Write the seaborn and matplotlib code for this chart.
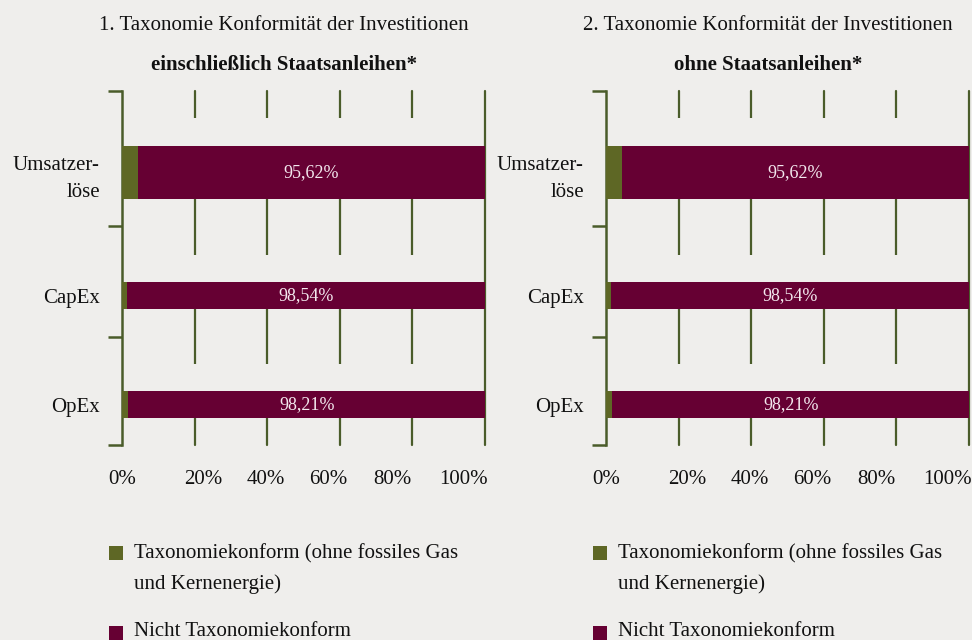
import matplotlib
matplotlib.use("Agg")
import matplotlib.pyplot as plt
from matplotlib.patches import Rectangle
import seaborn as sns

# Daten
kategorien = ["Umsatzer-\nlöse", "CapEx", "OpEx"]
konform_mit = [4.38, 1.46, 1.79]      # einschließlich Staatsanleihen
nicht_mit = [95.62, 98.54, 98.21]
konform_ohne = [4.38, 1.46, 1.79]     # ohne Staatsanleihen
nicht_ohne = [95.62, 98.54, 98.21]
x_labels = ["0%", "20%", "40%", "60%", "80%", "100%"]
titel = ["1. Taxonomie Konformität der Investitionen", "2. Taxonomie Konformität der Investitionen"]
untertitel = ["einschließlich Staatsanleihen*", "ohne Staatsanleihen*"]
legende = ["Taxonomiekonform (ohne fossiles Gas", "und Kernenergie)", "Nicht Taxonomiekonform"]

# Layout / Farben
bg = "#EFEEEC"
gruen = "#5E6725"
bordeaux = "#660033"
linie = "#4A5C2A"
grid_x = [20, 40, 60, 80, 100]
label_x = [0, 22.3, 39.7, 56.9, 74.5, 94.2]
bar_y = [2.30, 5.78, 8.86]
bar_h = [1.50, 0.76, 0.76]
band_y = [0, 3.81, 6.95, 10]
gap_h = 0.78

sns.set_theme(style="white")
plt.rcParams["font.family"] = ["Liberation Serif", "DejaVu Serif"]

fig = plt.figure(figsize=(9.72, 6.4), dpi=100, facecolor=bg)
W, H = 972, 640

panels = [(konform_mit, nicht_mit, 122), (konform_ohne, nicht_ohne, 606)]
for i, (konf, nicht, x0) in enumerate(panels):
    ax = fig.add_axes([x0 / W, 1 - 445 / H, 363 / W, 354 / H])
    ax.set_facecolor(bg)
    ax.set_xlim(0, 100)
    ax.set_ylim(10, 0)

    for gx in grid_x:
        ax.axvline(gx, color=linie, lw=1.6, zorder=1, clip_on=False)
    # Lücken in den Gitterlinien oberhalb der Balken
    gap_y = [y - h / 2 - gap_h / 2 for y, h in zip(bar_y, bar_h)]
    ax.barh(gap_y, 98, left=0.8, height=gap_h, color=bg, lw=0, zorder=2)

    ax.barh(bar_y, konf, height=bar_h, color=gruen, lw=0, zorder=3)
    c = ax.barh(bar_y, nicht, left=konf, height=bar_h, color=bordeaux, lw=0, zorder=3)
    ax.bar_label(c, labels=[f"{v:.2f}%".replace(".", ",") for v in nicht],
                 label_type="center", color="#F3E8EE", fontsize=13)

    for s in ["top", "right", "bottom"]:
        ax.spines[s].set_visible(False)
    ax.spines["left"].set_color(linie)
    ax.spines["left"].set_linewidth(1.8)

    ax.set_yticks(band_y)
    ax.set_yticklabels([])
    ax.tick_params(axis="y", which="major", left=True, length=10, width=1.8,
                   color=linie, direction="out")
    ax.set_yticks(bar_y, kategorien, minor=True)
    ax.tick_params(axis="y", which="minor", left=True, length=0, pad=16, labelsize=15)
    for t in ax.get_yticklabels(minor=True):
        t.set_linespacing(1.55)
        t.set_color("#111111")

    ax.set_xticks(label_x, x_labels)
    ax.tick_params(axis="x", length=0, pad=18, labelsize=15, labelcolor="#111111")
    ax.grid(False)

    # Titel
    tx = (x0 - 19 + 181) / W
    fig.text(tx, 1 - 30 / H, titel[i], ha="center", va="baseline", fontsize=15, color="#111111")
    fig.text(tx, 1 - 70 / H, untertitel[i], ha="center", va="baseline", fontsize=15,
             fontweight="bold", color="#111111")

    # Legende
    lx = x0 - 13
    fig.add_artist(Rectangle((lx / W, 1 - 560 / H), 14 / W, 14 / H, color=gruen, lw=0,
                             transform=fig.transFigure))
    fig.add_artist(Rectangle((lx / W, 1 - 640 / H), 14 / W, 14 / H, color=bordeaux, lw=0,
                             transform=fig.transFigure))
    for txt, by in zip(legende, [558, 589, 636]):
        fig.text((x0 + 12) / W, 1 - by / H, txt, va="baseline", fontsize=15, color="#111111")

fig.savefig("out.png", dpi=100, facecolor=bg)
